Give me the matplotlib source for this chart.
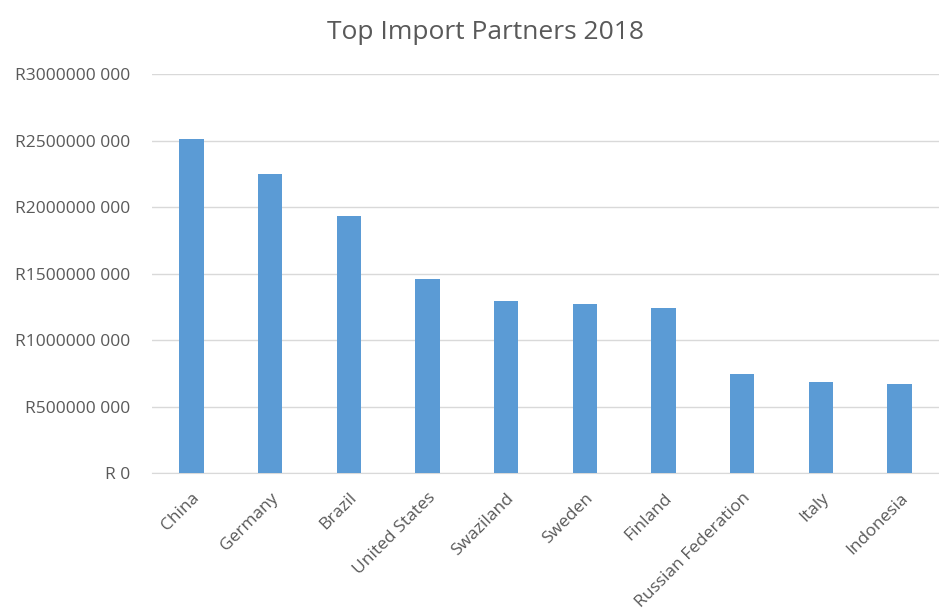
import matplotlib
matplotlib.use("Agg")
import matplotlib.pyplot as plt

# Import values in rand (millions)
countries = ["China", "Germany", "Brazil", "United States", "Swaziland",
             "Sweden", "Finland", "Russian Federation", "Italy", "Indonesia"]
imports_m = [2510, 2250, 1935, 1460, 1295, 1270, 1240, 745, 685, 670]
y_ticks_m = [0, 500, 1000, 1500, 2000, 2500, 3000]

plt.rcParams['font.family'] = ['Open Sans', 'DejaVu Sans']
text_col = '#595959'

fig = plt.figure(figsize=(9.39, 6.13), dpi=100)
ax = fig.add_axes([0.162, 0.228, 0.838, 0.651])

values = [v * 1e6 for v in imports_m]
x = range(len(countries))
ax.bar(x, values, width=0.31, color='#5b9bd5', zorder=3)

ax.set_xlim(-0.5, len(countries) - 0.5)
ax.set_ylim(0, 3e9)
ticks = [t * 1e6 for t in y_ticks_m]
ax.set_yticks(ticks)
ax.set_yticklabels(["R 0" if t == 0 else f"R{t * 1000} 000" for t in y_ticks_m],
                   fontsize=12.5, color=text_col)
ax.set_xticks(list(x))
ax.set_xticklabels(countries, rotation=45, ha='right', rotation_mode='anchor',
                   fontsize=12.5, color=text_col)
ax.tick_params(axis='both', length=0)
ax.tick_params(axis='y', pad=16)
ax.tick_params(axis='x', pad=12)

ax.grid(axis='y', color='#d9d9d9', linewidth=1, zorder=0)
for side in ['top', 'right', 'left']:
    ax.spines[side].set_visible(False)
ax.spines['bottom'].set_color('#d9d9d9')

fig.text(0.517, 0.947, "Top Import Partners 2018", ha='center', va='center',
         fontsize=19, color=text_col)

fig.savefig("out.png", dpi=100)
